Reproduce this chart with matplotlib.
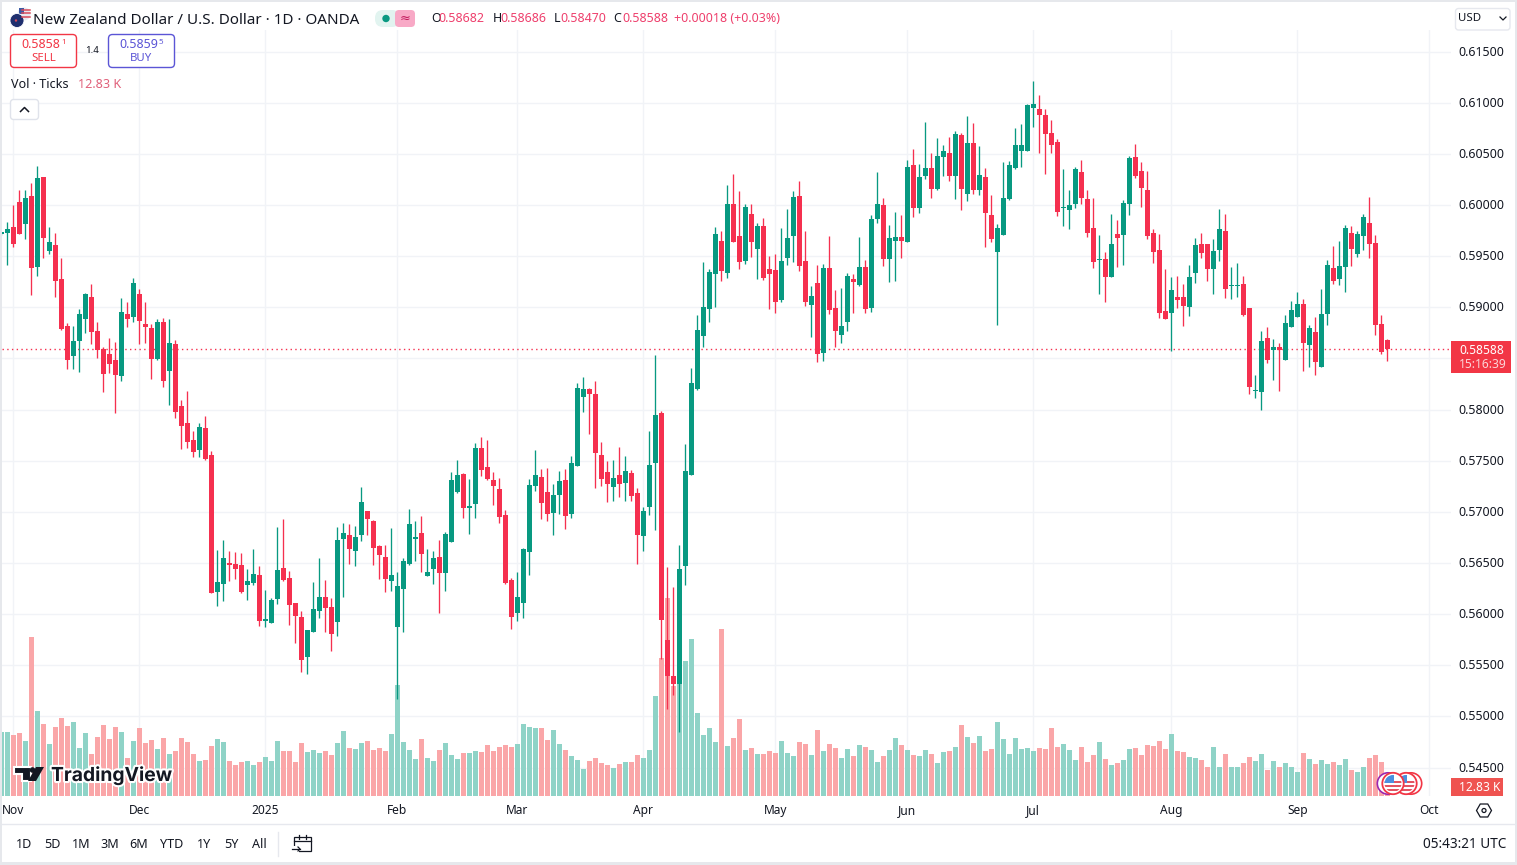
import matplotlib
matplotlib.use("Agg")
import matplotlib.pyplot as plt
from matplotlib.patches import FancyBboxPatch, Rectangle, Circle, Polygon
from matplotlib.transforms import ScaledTranslation
import matplotlib.patheffects as pe
import numpy as np

plt.rcParams['font.family'] = ['Noto Sans', 'DejaVu Sans']

# Prices in 1/10000 of a dollar
opens = [5972,5973,5978,6003,5981,6009,5939,6027,5955,5961,
 5928,5882,5852,5867,5888,5910,5877,5859,5854,5848,
 5833,5893,5890,5913,5884,5880,5849,5886,5838,5864,
 5803,5787,5770,5760,5782,5756,5622,5629,5650,5649,
 5648,5628,5630,5638,5593,5591,5615,5645,5635,5611,
 5597,5558,5582,5603,5617,5607,5592,5673,5677,5662,
 5677,5701,5691,5667,5656,5632,5587,5625,5649,5673,
 5679,5637,5644,5656,5640,5670,5719,5737,5704,5708,
 5762,5744,5731,5722,5697,5633,5601,5611,5661,5725,
 5734,5719,5699,5716,5731,5698,5745,5812,5820,5815,
 5756,5739,5724,5736,5728,5738,5718,5676,5705,5748,
 5797,5575,5539,5532,5647,5736,5820,5872,5898,5932,
 5965,5933,6001,5970,5945,5991,5957,5979,5937,5936,
 5907,5948,5970,6009,5945,5902,5924,5855,5938,5899,
 5873,5886,5928,5922,5939,5899,5986,6000,5947,5965,
 5969,5964,6039,5997,6028,6036,6016,6047,6051,6028,
 6068,6011,6061,6015,6027,5990,5954,5971,6006,6036,
 6053,6053,6095,6094,6088,6070,6062,5997,5995,6001,
 6032,6006,5977,5946,5947,5930,5972,5971,6001,6047,
 6033,6015,5973,5956,5896,5894,5910,5910,5900,5933,
 5962,5962,5937,5956,5975,5921,5921,5923,5899,5818,
 5817,5870,5858,5861,5848,5881,5890,5903,5863,5876,
 5842,5893,5938,5928,5939,5973,5952,5970,5982,5963,5884,5868.2]
highs = [5974,5983,6000,6015,6015,6021,6038,6027,5978,5973,
 5948,5885,5882,5898,5914,5923,5886,5861,5870,5866,
 5909,5905,5929,5918,5905,5884,5888,5889,5888,5868,
 5809,5818,5779,5787,5794,5759,5663,5672,5662,5661,
 5660,5644,5664,5647,5624,5616,5685,5693,5642,5611,
 5603,5584,5631,5655,5633,5616,5685,5689,5688,5686,
 5724,5701,5692,5668,5668,5684,5641,5655,5703,5691,
 5696,5664,5662,5672,5680,5739,5751,5738,5732,5767,
 5773,5770,5739,5733,5702,5635,5641,5665,5732,5760,
 5742,5743,5727,5740,5742,5755,5826,5832,5821,5828,
 5768,5750,5751,5763,5755,5741,5723,5705,5779,5853,
 5799,5646,5626,5668,5766,5841,5892,5944,5937,5978,
 5975,6019,6030,6014,6001,6001,5982,5987,5950,5952,
 5977,5996,6014,6023,5975,5921,5941,5942,5970,5917,
 5919,5933,5932,5969,5946,5990,6032,6007,5980,5993,
 5990,6044,6055,6040,6081,6051,6065,6059,6066,6072,
 6070,6087,6080,6058,6036,6010,5981,6042,6043,6075,
 6079,6099,6121,6107,6094,6083,6064,6035,6015,6037,
 6044,6015,6007,5971,5954,5991,5985,6005,6048,6060,
 6042,6033,5976,5972,5937,5930,5931,5923,5941,5968,
 5973,5962,5967,5996,5991,5939,5943,5931,5899,5834,
 5877,5881,5869,5865,5892,5906,5915,5908,5883,5890,
 5918,5946,5960,5965,5980,5979,5975,5991,6008,5971,5892,5868.6]
lows = [5971,5941,5959,5972,5967,5912,5931,5948,5952,5910,
 5878,5840,5840,5837,5875,5864,5850,5817,5836,5797,
 5828,5881,5886,5864,5865,5830,5848,5822,5804,5792,
 5761,5762,5754,5754,5751,5621,5608,5613,5632,5634,
 5621,5614,5628,5588,5587,5591,5610,5632,5589,5572,
 5543,5541,5582,5596,5582,5564,5579,5617,5649,5647,
 5671,5677,5648,5634,5622,5623,5517,5582,5648,5652,
 5641,5637,5629,5601,5623,5670,5718,5694,5678,5694,
 5735,5731,5707,5689,5629,5585,5593,5596,5638,5720,
 5693,5691,5677,5698,5683,5694,5745,5798,5776,5723,
 5725,5710,5711,5714,5711,5711,5649,5662,5697,5682,
 5556,5507,5521,5485,5628,5736,5819,5861,5886,5900,
 5926,5929,5964,5937,5942,5949,5928,5927,5898,5894,
 5905,5941,5944,5935,5901,5871,5846,5847,5893,5861,
 5865,5877,5894,5921,5894,5895,5982,5940,5925,5926,
 5948,5964,5988,5992,6025,6007,6015,6028,6023,6006,
 5995,6004,6011,6010,5959,5964,5883,5971,6005,6035,
 6037,6053,6076,6051,6030,6051,5989,5979,5976,5997,
 6001,5969,5938,5913,5905,5930,5939,5941,5990,6026,
 5998,5967,5943,5889,5888,5857,5899,5882,5891,5924,
 5948,5926,5913,5945,5909,5908,5910,5891,5815,5811,
 5800,5845,5829,5818,5848,5881,5890,5838,5842,5834,
 5842,5883,5923,5922,5915,5940,5949,5956,5948,5873,5854,5847]
closes = [5973,5976,5962,5972,6007,5938,6026,5968,5964,5926,
 5879,5848,5867,5893,5913,5876,5858,5835,5844,5834,
 5895,5888,5924,5887,5881,5849,5886,5828,5865,5798,
 5784,5768,5758,5783,5752,5621,5631,5655,5648,5644,
 5622,5632,5639,5593,5595,5614,5643,5633,5609,5598,
 5555,5584,5605,5617,5606,5581,5672,5679,5664,5675,
 5710,5693,5665,5658,5634,5638,5627,5652,5688,5675,
 5659,5641,5655,5640,5678,5731,5736,5704,5705,5762,
 5741,5732,5725,5695,5630,5597,5617,5664,5726,5736,
 5709,5698,5716,5730,5696,5748,5821,5820,5815,5757,
 5732,5727,5733,5727,5740,5715,5677,5701,5746,5795,
 5594,5539,5532,5644,5740,5826,5878,5900,5934,5972,
 5935,6001,5964,5944,5998,5964,5979,5929,5932,5905,
 5945,5968,6008,5940,5905,5911,5854,5938,5897,5877,
 5882,5931,5925,5939,5898,5986,6001,5947,5968,5969,
 5965,6037,5997,6027,6036,6016,6048,6053,6028,6069,
 6016,6061,6015,6029,5992,5967,5977,6007,6039,6059,
 6059,6098,6099,6088,6069,6059,5993,5998,6000,6035,
 6007,5973,5944,5947,5930,5962,5968,6002,6046,6028,
 6017,5970,5954,5894,5888,5917,5907,5901,5930,5961,
 5953,5937,5955,5976,5918,5922,5922,5892,5822,5819,
 5867,5848,5861,5858,5885,5897,5903,5865,5880,5846,
 5893,5941,5926,5940,5977,5957,5972,5988,5962,5883,5856,5858.8]
# Tick volume in thousands
volumes = [91.2,91.2,86.9,89.8,78.4,226.6,121.1,102.6,74.1,98.3,
 111.2,99.8,105.5,68.4,89.8,59.9,84.1,101.2,81.2,98.3,
 91.2,54.2,78.4,96.9,75.5,79.8,67,82.7,59.9,64.1,
 82.7,77,59.9,49.9,51.3,71.3,81.2,77,49.9,44.2,
 48.5,49.9,44.2,48.5,55.6,49.9,78.4,64.1,64.1,48.5,
 75.5,62.7,65.6,61.3,64.1,58.4,75.5,92.6,68.4,67,
 75.5,78.4,65.6,68.4,64.1,88.4,158.2,77,65.6,52.7,
 81.2,54.2,49.9,65.6,75.5,58.4,52.7,61.3,61.3,64.1,
 62.7,72.7,64.1,69.8,72.7,69.8,74.1,102.6,98.3,96.9,
 96.9,79.8,94.1,74.1,65.6,57,51.3,38.5,49.9,54.2,
 47,44.2,39.9,45.6,48.5,48.5,58.4,54.2,65.6,142.5,
 196.7,282.2,156.8,172.4,192.4,223.7,118.3,86.9,96.9,77,
 238,71.3,82.7,109.7,65.6,68.4,59.9,59.9,64.1,61.3,
 78.4,61.3,57,77,74.1,58.4,94.1,64.1,74.1,68.4,
 54.2,67,57,72.7,69.8,65.6,48.5,57,65.6,82.7,
 72.7,65.6,58.4,57,65.6,59.9,47,62.7,64.1,69.8,
 101.2,84.1,75.5,85.5,64.1,67,105.5,81.2,59.9,82.7,
 67,68.4,64.1,68.4,67,96.9,69.8,74.1,65.6,51.3,
 69.8,48.5,58.4,77,52.7,44.2,47,51.3,67,68.4,
 58.4,72.7,71.3,78.4,67,88.4,64.1,62.7,55.6,54.2,
 51.3,41.3,69.8,41.3,59.9,41.3,41.3,47,55.6,49.9,
 59.9,37,49.9,41.3,47,41.3,34.2,61.3,52.7,45.6,
 51.3,45.6,48.5,44.2,52.7,37,34.2,41.3,54.2,58.4,48.5,12.83]

month_ticks = [2, 23, 44, 66, 86, 107, 129, 151, 172, 195, 216, 238]
month_labels = ['Nov','Dec','2025','Feb','Mar','Apr','May','Jun','Jul','Aug','Sep','Oct']
price_ticks = [0.545,0.55,0.555,0.56,0.565,0.57,0.575,0.58,0.585,0.59,0.595,0.6,0.605,0.61,0.615]
hidden_price_label = 0.585   # sits under the last-price tag in the reference
last_price = 0.58588
range_buttons = ['1D','5D','1M','3M','6M','YTD','1Y','5Y','All']
range_x = [24,52,81,110,139,172,204,231,259]

W, H = 1517, 865
UP, DOWN = '#089981', '#F5304F'
UPV, DOWNV = '#8FD3C7', '#FAA6A8'
GRID = '#F1F3F7'
TXT = '#131722'

fig = plt.figure(figsize=(W/100, H/100), dpi=100, facecolor='white')

# pane occupies x 2..1451, y 30..796 in pixels
L, R, T, B = 2, 1451, 30, 796
rect = [L/W, 1-B/H, (R-L)/W, (B-T)/H]
PX_PER_UNIT = 10228.6
xlim = ((L-1.3)/6, (R-1.3)/6)
ylim = (0.615-(B-51.5)/PX_PER_UNIT, 0.615-(T-51.5)/PX_PER_UNIT)

axv = fig.add_axes(rect, zorder=2, facecolor='white')
ax = fig.add_axes(rect, zorder=3, facecolor='none')

idx = np.arange(len(opens))
O, Hi, Lo, C = [np.array(a)/1e4 for a in (opens, highs, lows, closes)]
up = C >= O

axv.set_xlim(xlim)
axv.set_ylim(0, (B-T)/0.7018)
axv.bar(idx, volumes, width=0.78, color=[UPV if u else DOWNV for u in up], linewidth=0)
axv.set_xticks(month_ticks)
axv.set_xticklabels([])
axv.set_yticks([])
axv.tick_params(length=0)
axv.grid(axis='x', color=GRID, lw=1.0)
axv.set_axisbelow(True)
for p in price_ticks:
    axv.axhline((p-ylim[0])*PX_PER_UNIT/0.7018, color=GRID, lw=1.0, zorder=0.5)
for s in axv.spines.values():
    s.set_visible(False)

ax.set_xlim(xlim)
ax.set_ylim(ylim)
ax.vlines(idx, Lo, Hi, colors=[UP if u else DOWN for u in up], lw=0.95, zorder=3)
ax.bar(idx, np.maximum(np.abs(C-O), 0.00012), bottom=np.minimum(O, C), width=0.8,
       color=[UP if u else DOWN for u in up], linewidth=0, zorder=4)
ax.axhline(last_price, color=DOWN, lw=1.0, ls=(0, (1, 2.4)), zorder=2)
ax.yaxis.tick_right()
ax.set_yticks(price_ticks)
ax.set_yticklabels(['' if p == hidden_price_label else f'{p:.5f}' for p in price_ticks],
                   fontsize=8.9, color=TXT)
ax.set_xticks(month_ticks)
ax.set_xticklabels(month_labels, fontsize=8.6, color=TXT)
ax.get_xticklabels()[2].set_fontweight('bold')
ax.tick_params(axis='both', length=0)
ax.tick_params(axis='y', pad=5.6)
ax.tick_params(axis='x', pad=6.1)
shift_up = ScaledTranslation(0, 1/100, fig.dpi_scale_trans)
for lab in ax.get_yticklabels():
    lab.set_transform(lab.get_transform() + shift_up)
for s in ax.spines.values():
    s.set_visible(False)

# Overlay in pixel coordinates for interface furniture
ui = fig.add_axes([0, 0, 1, 1], zorder=5, facecolor='none')
ui.set_xlim(0, W)
ui.set_ylim(H, 0)
ui.axis('off')

def T_(x, y, s, px=12, color=TXT, ha='left', va='center', **kw):
    return ui.text(x, y+1, s, fontsize=px*0.72, color=color, ha=ha, va=va, **kw)

def box(x0, y0, x1, y1, fc='none', ec='none', r=3, lw=1.0, **kw):
    p = FancyBboxPatch((x0+r, y0+r), x1-x0-2*r, y1-y0-2*r,
                       boxstyle=f'round,pad={r},rounding_size={r}',
                       fc=fc, ec=ec, lw=lw, **kw)
    ui.add_patch(p)
    return p

# frame
for r_ in [(0, 0, W, 2), (0, 0, 2, H), (0, 862, W, 3), (W-2, 0, 2, H)]:
    ui.add_patch(Rectangle(r_[:2], r_[2], r_[3], fc='#E6E8EC', ec='none'))
ui.plot([2, W-2], [824, 824], color='#E6E8EE', lw=1.0)

# header
ui.add_patch(Circle((24, 14), 6.5, fc='#E8E8F0', ec='none'))
for yy, cc in [(9.5, '#D94A5A'), (13, '#D94A5A'), (16.5, '#D94A5A')]:
    ui.plot([22, 30], [yy, yy], color=cc, lw=1.1)
ui.add_patch(Rectangle((19, 8), 5, 6, fc='#3B5BA5', ec='none'))
ui.add_patch(Circle((17, 20.5), 7, fc='#1F2F6E', ec='white', lw=0.6))
ui.add_patch(Circle((16, 20.5), 1.2, fc='#D94A5A', ec='none'))
T_(33, 19, 'New Zealand Dollar / U.S. Dollar · 1D · OANDA', px=15.2)

box(375, 10, 400, 27, fc='#E2F4F0', r=8)
box(395, 10, 415, 27, fc='#F8A9C6', r=4)
ui.add_patch(Circle((386, 18.5), 3.7, fc=UP, ec='none'))
T_(405, 17.5, '≈', px=13, color='#C2185B', ha='center')

RED = '#F23645'
VALRED = '#EE3F6C'
for x_, lab, val, xv in [(431, 'O', '0.58682', 438.5), (492.5, 'H', '0.58686', 500),
                         (553.5, 'L', '0.58470', 560), (613, 'C', '0.58588', 622)]:
    T_(x_, 18, lab, px=12.4)
    T_(xv, 18, val, px=12.4, color=VALRED)
T_(674, 18, '+0.00018 (+0.03%)', px=12.4, color=VALRED)

# sell / buy
box(10.5, 34.5, 76.5, 67.5, fc='white', ec=RED, r=4, lw=1.0)
box(108.5, 34.5, 174.5, 67.5, fc='white', ec='#5B55D6', r=4, lw=1.0)
T_(21, 43, '0.5858', px=12.5, color=RED)
T_(61, 42, '1', px=8, color=RED)
T_(43.5, 57.5, 'SELL', px=11.4, color=RED, ha='center')
T_(119, 43, '0.5859', px=12.5, color='#5B55D6')
T_(158.5, 42, '5', px=8, color='#5B55D6')
T_(141.5, 57.5, 'BUY', px=11.4, color='#5B55D6', ha='center')
T_(92.5, 49.5, '1.4', px=9.6, ha='center')
T_(11, 84, 'Vol · Ticks', px=12.6)
T_(78.5, 84, '12.83 K', px=12.6, color='#E0607A')
box(10.5, 99.5, 38.5, 119.5, fc='white', ec='#E0E3EB', r=3)
ui.plot([20.5, 24.5, 28.5], [111.5, 107.5, 111.5], color=TXT, lw=1.1)

# USD selector
box(1455.5, 8.5, 1510, 30, fc='white', ec='#E6E8EE', r=3)
T_(1458, 17.5, 'USD', px=11.5)
ui.plot([1500, 1503, 1506], [17, 20, 17], color=TXT, lw=0.9)

# last price tag
ui.add_patch(Rectangle((1451, 341), 60, 32, fc=RED, ec='none'))
T_(1459, 349, '0.58588', px=12, color='white', fontweight='bold')
T_(1459, 363, '15:16:39', px=12, color='#FBD5D8')

# volume tag
ui.add_patch(Rectangle((1451, 778), 52, 18, fc='#EF5350', ec='none'))
T_(1459, 786.5, '12.83 K', px=12, color='white', fontweight='bold')

# TradingView watermark
halo = [pe.withStroke(linewidth=3, foreground='white')]
ui.add_patch(Polygon([(14, 767), (31, 767), (31, 781), (22.5, 781), (22.5, 774), (14, 774)],
                     fc='#131722', ec='white', lw=1.5))
ui.add_patch(Circle((32.5, 770), 2.8, fc='#131722', ec='none'))
ui.add_patch(Polygon([(36, 767), (44, 767), (36, 781), (28, 781)], fc='#131722', ec='none'))
ui.text(51, 775.5, 'TradingView', fontsize=13.9, fontweight='bold', family='Inter', color='#131722',
        ha='left', va='center', path_effects=halo)

# event flags
ui.add_patch(Circle((1388, 783.5), 10.7, fc='white', ec='#9C27B0', lw=1.2))
ui.add_patch(Circle((1411, 783.5), 10.7, fc='white', ec=RED, lw=1.2))
for cx in (1406, 1393):
    ui.add_patch(Circle((cx, 783.5), 10.7, fc='white', ec=RED, lw=1.3))
    clip = Circle((cx, 783.5), 8.5, transform=ui.transData)
    for yy in (782, 786, 790):
        st = Rectangle((cx-9, yy-1), 18, 2, fc='#E25563', ec='none')
        ui.add_patch(st)
        st.set_clip_path(clip)
    can = Rectangle((cx-9, 775), 10, 8, fc='#4C8FDF', ec='none')
    ui.add_patch(can)
    can.set_clip_path(clip)

# time-axis gear
ang = np.deg2rad(np.arange(0, 360, 60))
ui.add_patch(Polygon(np.c_[1484+7.5*np.cos(ang), 810.5+7.5*np.sin(ang)], fc='none', ec=TXT, lw=0.9))
ui.add_patch(Circle((1484, 810.5), 2, fc='none', ec=TXT, lw=0.9))

# toolbar
for lab, x in zip(range_buttons, range_x):
    T_(x, 843.5, lab, px=12.6, ha='center')
ui.plot([278.5, 278.5], [832, 856], color='#E6E8EE', lw=1.0)
ui.add_patch(Rectangle((294, 837), 17, 14, fc='none', ec=TXT, lw=0.9))
ui.plot([299, 299], [835, 839], color=TXT, lw=0.9)
ui.plot([306, 306], [835, 839], color=TXT, lw=0.9)
ui.plot([294, 311], [841, 841], color=TXT, lw=0.9)
ui.add_patch(Rectangle((291, 846), 8, 7, fc='white', ec='none'))
ui.plot([292, 300], [849, 849], color=TXT, lw=0.9)
ui.plot([298, 300, 298], [847, 849, 851], color=TXT, lw=0.9)
T_(1506, 843.5, '05:43:21 UTC', px=13.6, ha='right')

fig.savefig('out.png', dpi=100)
